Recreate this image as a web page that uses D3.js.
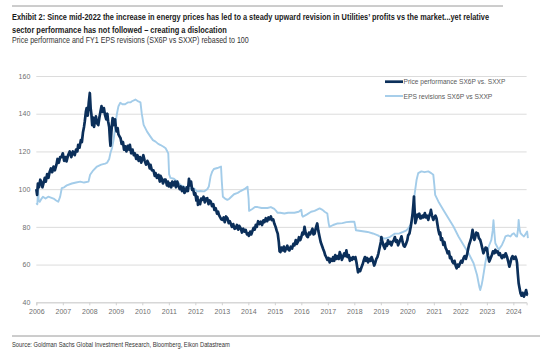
<!DOCTYPE html>
<html>
<head>
<meta charset="utf-8">
<script src="https://cdn.jsdelivr.net/npm/d3@7"></script>
<style>
  html, body { margin: 0; padding: 0; background: #fff; }
  svg { display: block; }
</style>
</head>
<body>
<svg id="chart" width="560" height="360"></svg>
<script>
// ---------- DATA ----------
const titleLines = [
  "Exhibit 2: Since mid-2022 the increase in energy prices has led to a steady upward revision in Utilities’ profits vs the market...yet relative",
  "sector performance has not followed – creating a dislocation"
];
const subtitle = "Price performance and FY1 EPS revisions (SX6P vs SXXP) rebased to 100";
const sourceText = "Source: Goldman Sachs Global Investment Research, Bloomberg, Eikon Datastream";
const seriesNames = ["Price performance SX6P vs. SXXP", "EPS revisions SX6P vs SXXP"];
const yTicks = [40, 60, 80, 100, 120, 140, 160];
const xTicks = [2006, 2007, 2008, 2009, 2010, 2011, 2012, 2013, 2014, 2015, 2016, 2017, 2018, 2019, 2020, 2021, 2022, 2023, 2024];

// Price performance [decimal year, index]
const pricePerf = [
[2006.00,100],[2006.03,97],[2006.06,103],[2006.10,101],[2006.15,105],[2006.19,103.8],[2006.23,101],[2006.27,103],[2006.32,106],[2006.36,104],
[2006.41,108],[2006.46,106],[2006.50,109],[2006.55,111],[2006.60,109],[2006.65,112],[2006.70,110],[2006.76,113],[2006.80,116],[2006.85,114],
[2006.90,117],[2006.95,117],[2007.00,119],[2007.05,115],[2007.10,117],[2007.14,114.7],[2007.20,118],[2007.26,120],[2007.32,117],[2007.38,120],
[2007.45,118],[2007.50,121],[2007.55,120],[2007.58,123.5],[2007.63,122],[2007.68,126],[2007.72,125],[2007.76,130],[2007.80,133],[2007.83,136],
[2007.87,141],[2007.90,143],[2007.94,139],[2007.98,146],[2008.02,151],[2008.05,143],[2008.08,139.5],[2008.11,134],[2008.14,138],[2008.18,133],
[2008.22,137],[2008.25,138.6],[2008.29,135],[2008.34,134],[2008.38,138],[2008.42,141],[2008.46,144],[2008.50,141],[2008.55,143],[2008.59,139.5],
[2008.64,137],[2008.68,140],[2008.71,136],[2008.75,133],[2008.78,126],[2008.80,123],[2008.83,130],[2008.86,135],[2008.88,137.7],[2008.92,134],
[2008.97,137],[2009.00,133],[2009.03,130.6],[2009.07,132.4],[2009.10,129],[2009.14,128],[2009.18,127],[2009.22,124],[2009.27,125],[2009.31,121],
[2009.35,122.7],[2009.40,120],[2009.45,123],[2009.50,121],[2009.53,123.5],[2009.58,119],[2009.63,121],[2009.68,118],[2009.72,119],[2009.77,116],
[2009.82,118],[2009.86,115],[2009.91,117],[2009.96,114],[2010.00,116],[2010.04,118],[2010.09,115],[2010.14,113],[2010.19,115],[2010.23,113.8],
[2010.28,111],[2010.31,112.9],[2010.36,110],[2010.42,110],[2010.47,107],[2010.50,108.5],[2010.55,106],[2010.61,107.6],[2010.66,104],[2010.69,107],
[2010.73,105.8],[2010.78,103],[2010.83,105],[2010.88,105],[2010.93,102],[2010.97,104],[2011.00,101.4],[2011.05,103],[2011.09,101],[2011.13,104],
[2011.18,102],[2011.23,104],[2011.27,101],[2011.32,104],[2011.36,102],[2011.41,100],[2011.45,101.4],[2011.50,99],[2011.55,101],[2011.59,98],
[2011.63,98.8],[2011.68,101],[2011.72,99],[2011.76,105.5],[2011.80,102],[2011.84,104],[2011.88,99.6],[2011.92,100],[2011.96,97],[2012.00,97.9],
[2012.04,94],[2012.08,96],[2012.10,91.7],[2012.14,94],[2012.18,92],[2012.22,95],[2012.26,94.3],[2012.31,96],[2012.36,93],[2012.40,95],
[2012.45,95.2],[2012.50,92],[2012.54,94],[2012.58,93.5],[2012.63,91],[2012.68,92],[2012.72,89],[2012.77,89.9],[2012.82,87],[2012.86,88],
[2012.89,86.4],[2012.94,85],[2012.98,84],[2013.02,83.7],[2013.07,85],[2013.11,82.5],[2013.16,85.5],[2013.21,84.6],[2013.26,82],[2013.30,83],
[2013.33,82],[2013.38,80],[2013.43,81.5],[2013.48,79],[2013.52,79.3],[2013.57,81],[2013.62,78.5],[2013.66,80.5],[2013.71,79.3],[2013.76,77],
[2013.81,79],[2013.86,77.5],[2013.90,78.4],[2013.95,76],[2014.00,76.5],[2014.02,75.2],[2014.07,77.5],[2014.11,76],[2014.15,77.5],[2014.20,79.5],
[2014.24,78.5],[2014.28,81],[2014.32,80],[2014.37,83],[2014.42,81.5],[2014.47,82.8],[2014.52,81],[2014.57,83.5],[2014.61,82.5],[2014.66,84.6],
[2014.71,83],[2014.76,85],[2014.80,84],[2014.85,85.5],[2014.89,83.6],[2014.94,84],[2014.98,81.8],[2015.03,80],[2015.07,78],[2015.11,76.4],
[2015.15,72],[2015.18,67],[2015.21,66.6],[2015.25,69],[2015.30,67.5],[2015.34,69.5],[2015.38,67],[2015.42,68.4],[2015.47,70],[2015.51,68],
[2015.55,67.5],[2015.60,69.5],[2015.65,68.5],[2015.70,71],[2015.74,70.2],[2015.79,73],[2015.83,71],[2015.87,72],[2015.91,74.5],[2015.96,73],
[2016.00,74.6],[2016.04,77],[2016.08,76],[2016.12,80],[2016.16,77],[2016.21,75],[2016.25,74.6],[2016.29,77],[2016.33,76],[2016.37,77.3],
[2016.42,79],[2016.46,76],[2016.50,76.4],[2016.54,79],[2016.57,80.5],[2016.60,81.8],[2016.64,78],[2016.69,74.6],[2016.73,72],[2016.78,70],
[2016.82,68.4],[2016.86,67],[2016.90,65],[2016.94,64],[2016.98,62.5],[2017.03,63.5],[2017.07,61.2],[2017.11,63],[2017.16,62],[2017.20,64],
[2017.24,62],[2017.28,65],[2017.32,63],[2017.37,64.5],[2017.41,63],[2017.45,66.6],[2017.49,65],[2017.53,62.5],[2017.57,64],[2017.62,66],
[2017.66,64.5],[2017.70,67.5],[2017.74,64],[2017.79,65],[2017.83,62],[2017.87,63.5],[2017.91,62.5],[2017.95,64],[2018.00,63],[2018.04,64],
[2018.08,61.2],[2018.11,58.5],[2018.14,55.9],[2018.18,57.5],[2018.22,56.5],[2018.27,58.6],[2018.31,60],[2018.35,62],[2018.40,64],[2018.44,62],
[2018.48,63.5],[2018.52,61.2],[2018.57,63],[2018.61,62],[2018.65,64],[2018.70,62],[2018.75,59.5],[2018.79,61],[2018.83,63],[2018.87,64],
[2018.91,66],[2018.96,69.3],[2019.00,72],[2019.02,74.6],[2019.06,72],[2019.10,70],[2019.15,68.4],[2019.19,71],[2019.23,70],[2019.27,72.9],
[2019.31,71],[2019.36,72],[2019.40,70.2],[2019.44,72],[2019.49,73],[2019.53,74.6],[2019.57,72],[2019.61,73],[2019.65,70.2],[2019.70,72],
[2019.74,73.5],[2019.78,75],[2019.82,72],[2019.86,70],[2019.90,69.5],[2019.95,71],[2020.00,73],[2020.03,75.5],[2020.08,76.5],[2020.13,80.2],
[2020.17,84],[2020.20,87.3],[2020.23,92],[2020.25,96.1],[2020.27,90],[2020.30,82],[2020.34,84],[2020.38,86.5],[2020.41,85.5],[2020.45,87],
[2020.49,84.5],[2020.53,84.6],[2020.57,86],[2020.61,85],[2020.66,87.3],[2020.70,85],[2020.74,86],[2020.79,83.7],[2020.83,86],[2020.87,87.5],
[2020.89,89],[2020.93,86],[2020.98,83.7],[2021.02,85],[2021.06,86],[2021.10,84.6],[2021.14,81],[2021.17,78.4],[2021.21,76],[2021.24,77],
[2021.27,73.1],[2021.31,74],[2021.36,70.4],[2021.40,72],[2021.44,69],[2021.48,67.8],[2021.52,66],[2021.57,67],[2021.61,63.4],[2021.65,64],
[2021.70,61.5],[2021.74,60.7],[2021.78,62],[2021.82,59.5],[2021.86,58],[2021.90,60],[2021.94,59],[2021.99,60.7],[2022.03,62],[2022.07,61],
[2022.12,63.4],[2022.16,64.5],[2022.21,63],[2022.25,65.1],[2022.29,68],[2022.33,70.5],[2022.37,72.2],[2022.41,74],[2022.44,76.5],[2022.46,78.4],
[2022.50,75],[2022.53,73.1],[2022.56,74.5],[2022.60,77],[2022.63,75.8],[2022.66,76.5],[2022.70,74],[2022.75,73.1],[2022.79,71],[2022.83,68.5],
[2022.87,66],[2022.91,67.5],[2022.95,69],[2023.00,68.7],[2023.04,65],[2023.09,61.6],[2023.13,63],[2023.19,65.1],[2023.23,67],[2023.28,66],
[2023.32,67.8],[2023.36,66.5],[2023.41,67],[2023.45,65.1],[2023.49,66],[2023.53,64.5],[2023.57,63.4],[2023.62,65],[2023.66,64],[2023.71,66],
[2023.76,64.2],[2023.80,62],[2023.85,58.9],[2023.89,61],[2023.93,63.4],[2023.97,64.5],[2024.02,63],[2024.08,64.2],[2024.12,62.5],[2024.14,60.7],
[2024.17,55],[2024.20,50.1],[2024.24,47],[2024.27,44.8],[2024.31,43.5],[2024.35,45],[2024.40,43],[2024.44,44.5],[2024.48,46.5],[2024.52,44],
[2024.55,43.9]
];

// EPS revisions [decimal year, index]
const epsRevisions = [
[2006.00,92.6],[2006.04,92],[2006.07,100],[2006.09,94],[2006.13,93.3],[2006.20,95],[2006.25,96],[2006.35,95],[2006.45,96],[2006.55,95.5],
[2006.65,95],[2006.75,94],[2006.83,93.3],[2006.90,96],[2006.96,100.5],[2007.05,101],[2007.15,102],[2007.34,103],[2007.50,103.5],[2007.66,104],
[2007.80,103.5],[2007.97,104],[2008.03,107.6],[2008.15,110],[2008.29,112],[2008.45,113],[2008.60,113.5],[2008.67,114],[2008.75,116],[2008.80,119.3],
[2008.86,122],[2008.92,126.4],[2008.97,132],[2009.02,138],[2009.05,140.5],[2009.10,144],[2009.17,145.8],[2009.25,145],[2009.35,145],[2009.45,146],
[2009.55,146],[2009.61,146.6],[2009.74,147.5],[2009.85,146.5],[2009.93,146],[2009.98,140],[2010.05,134.1],[2010.18,130.5],[2010.30,128],[2010.40,126],
[2010.50,125.2],[2010.60,124],[2010.69,123.4],[2010.80,122.5],[2010.88,121.7],[2010.98,119],[2011.01,108],[2011.06,106],[2011.19,105.5],[2011.32,104],
[2011.44,102.2],[2011.57,101.4],[2011.70,100.4],[2011.82,100.5],[2011.95,100.4],[2012.07,98.8],[2012.20,99],[2012.33,98.8],[2012.45,100],[2012.51,101.4],
[2012.58,107],[2012.64,109.4],[2012.70,110.7],[2012.83,111.2],[2012.97,112],[2013.00,104],[2013.04,96],[2013.12,95],[2013.21,94.3],[2013.27,94.8],
[2013.36,96],[2013.46,97.3],[2013.60,98],[2013.71,99],[2013.85,100],[2013.97,101.3],[2014.01,95],[2014.03,88.5],[2014.15,89.5],[2014.25,90.5],
[2014.35,90.5],[2014.50,90],[2014.72,90],[2014.85,90.5],[2014.98,89.5],[2015.05,88.5],[2015.10,87.5],[2015.20,87.5],[2015.36,87.1],[2015.50,87.5],
[2015.74,87.5],[2015.90,88],[2016.00,89],[2016.03,86],[2016.06,85.4],[2016.20,86.5],[2016.37,88],[2016.50,88.5],[2016.69,89.8],[2016.80,89],
[2016.88,88],[2016.98,87.1],[2017.03,82],[2017.06,80],[2017.20,81],[2017.37,81.8],[2017.55,82],[2017.70,82.5],[2017.87,82.7],[2018.00,82.7],
[2018.04,80],[2018.06,78.2],[2018.25,77.8],[2018.50,77.3],[2018.70,76.5],[2018.89,75.5],[2019.00,74.5],[2019.15,73.75],[2019.34,74.6],[2019.53,76.4],
[2019.70,76.5],[2019.84,77.3],[2019.95,78],[2020.03,79.1],[2020.16,81.8],[2020.22,88],[2020.28,97.9],[2020.35,105],[2020.41,108.5],[2020.53,109.4],
[2020.65,109],[2020.79,109.4],[2020.90,108.5],[2020.98,107.6],[2021.02,102],[2021.05,97],[2021.17,93.5],[2021.36,89],[2021.55,84.6],[2021.74,80.2],
[2021.93,74.9],[2022.12,70.4],[2022.31,66],[2022.50,60.7],[2022.63,54.5],[2022.72,48],[2022.75,46.5],[2022.80,49],[2022.84,51.9],[2022.94,60.7],
[2023.00,65],[2023.07,69.6],[2023.17,73.1],[2023.22,78],[2023.25,83.5],[2023.29,76],[2023.32,71.3],[2023.45,67.8],[2023.50,69],[2023.57,70.4],
[2023.65,73],[2023.70,74.9],[2023.80,75.5],[2023.89,74.9],[2023.95,76],[2024.02,76.6],[2024.10,75],[2024.14,74.9],[2024.18,79],[2024.20,83.7],
[2024.23,79],[2024.27,76.6],[2024.35,75.5],[2024.40,74.9],[2024.45,76],[2024.52,77.5],[2024.55,74]
];

const colors = { price: "#0b2f5a", eps: "#a3cce9" };

// ---------- CHART ----------
const svg = d3.select("#chart");
svg.append("rect").attr("width", 560).attr("height", 360).attr("fill", "#fff");

const plot = { left: 36.3, right: 526.6, top: 76, bottom: 302.3 };
const x = d3.scaleLinear().domain([2006, 2024.5]).range([plot.left, plot.right]);
const y = d3.scaleLinear().domain([40, 160]).range([plot.bottom, plot.top]);

// rules
svg.append("line").attr("x1", 12).attr("x2", 503).attr("y1", 6).attr("y2", 6)
  .attr("stroke", "#9a9a9a").attr("stroke-width", 1);
svg.append("line").attr("x1", 12).attr("x2", 540).attr("y1", 336).attr("y2", 336)
  .attr("stroke", "#9a9a9a").attr("stroke-width", 1);

const sansFont = "'Liberation Sans',Arial,sans-serif";

// condensed text: draw at natural width, then squeeze horizontally to the target width
function fittedText(parent, str, x0, y0, width, size, weight, fill) {
  const t = parent.append("text").attr("x", 0).attr("y", 0)
    .attr("font-family", sansFont).attr("font-size", size)
    .attr("font-weight", weight).attr("fill", fill).text(str);
  const natural = t.node().getComputedTextLength();
  const k = Math.min(1, width / natural);
  t.attr("transform", `translate(${x0},${y0}) scale(${k},1)`);
  return t;
}

// title, subtitle, source
const titleWidths = [478, 215];
titleLines.forEach((t, i) => fittedText(svg, t, 12, 19.5 + i * 13, titleWidths[i], 9.8, "bold", "#1a1a1a"));
fittedText(svg, subtitle, 12, 42.5, 237, 8.8, "normal", "#333");
fittedText(svg, sourceText, 12, 347, 218, 7.6, "normal", "#333");

// y axis + gridlines
const yAxis = d3.axisLeft(y).tickValues(yTicks).tickSize(-(plot.right - plot.left)).tickPadding(6);
const gy = svg.append("g").attr("transform", `translate(${plot.left},0)`).call(yAxis);
gy.select(".domain").remove();
gy.selectAll(".tick line").attr("stroke", "#dcdcdc").attr("stroke-width", 1);
gy.selectAll(".tick text").attr("font-family", sansFont)
  .attr("font-size", 7).attr("fill", "#6f6f6f").attr("x", -6);

// x axis
const xAxis = d3.axisBottom(x).tickValues(xTicks).tickFormat(d3.format("d")).tickSize(3).tickPadding(4);
const gx = svg.append("g").attr("transform", `translate(0,${plot.bottom})`).call(xAxis);
gx.select(".domain").attr("stroke", "#d0d0d0");
gx.selectAll(".tick line").attr("stroke", "#d0d0d0");
gx.selectAll(".tick text").attr("font-family", sansFont)
  .attr("font-size", 7).attr("fill", "#6f6f6f");

// lines
const line = d3.line().x(d => x(d[0])).y(d => y(d[1])).curve(d3.curveLinear);
svg.append("path").datum(epsRevisions).attr("d", line)
  .attr("fill", "none").attr("stroke", colors.eps).attr("stroke-width", 1.9).attr("stroke-linejoin", "round");
svg.append("path").datum(pricePerf).attr("d", line)
  .attr("fill", "none").attr("stroke", colors.price).attr("stroke-width", 2.7).attr("stroke-linejoin", "round");

// legend
const legend = svg.append("g");
const legendColors = [colors.price, colors.eps];
const legendWidths = [102, 89];
seriesNames.forEach((n, i) => {
  const ly = 81.7 + i * 14.3;
  legend.append("line").attr("x1", 385).attr("x2", 403).attr("y1", ly).attr("y2", ly)
    .attr("stroke", legendColors[i]).attr("stroke-width", i === 0 ? 2.7 : 1.9);
  fittedText(legend, n, 403.5, ly + 2.5, legendWidths[i], 7, "normal", "#595959");
});
</script>
</body>
</html>
